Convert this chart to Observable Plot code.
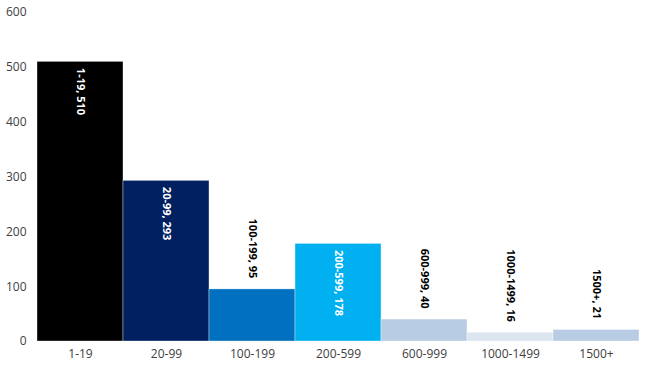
<!DOCTYPE html>
<html>
<head>
<meta charset="utf-8">
<script src="https://cdn.jsdelivr.net/npm/d3@7"></script>
<script src="https://cdn.jsdelivr.net/npm/@observablehq/plot@0.6"></script>
<style>
  html, body { margin: 0; padding: 0; background: #fff; }
  #chart svg { display: block; }
</style>
</head>
<body>
<div id="chart"></div>
<script>
const categories = ["1-19", "20-99", "100-199", "200-599", "600-999", "1000-1499", "1500+"];
const counts = [510, 293, 95, 178, 40, 16, 21];
const barColors = ["#000000", "#002060", "#0070C0", "#00B0F0", "#B8CCE4", "#DCE6F1", "#B8CCE4"];
const yTicks = [0, 100, 200, 300, 400, 500, 600];

const data = categories.map((c, i) => ({
  cat: c,
  value: counts[i],
  color: barColors[i],
  label: `${c}, ${counts[i]}`,
  inside: counts[i] > 150
}));

const font = "'Open Sans', 'Noto Sans', sans-serif";

const chart = Plot.plot({
  width: 650,
  height: 370,
  marginLeft: 36,
  marginRight: 10,
  marginTop: 12,
  marginBottom: 29,
  style: { fontFamily: font, fontSize: "12px", color: "#404040", background: "#fff" },
  x: { domain: categories, padding: 0, label: null, tickSize: 0, tickPadding: 8 },
  y: { domain: [0, 600], ticks: yTicks, label: null, tickSize: 0, tickPadding: 10 },
  marks: [
    Plot.barY(data, { x: "cat", y: "value", fill: "color", stroke: "#ffffff", strokeOpacity: 0.6, strokeWidth: 0.6 }),
    Plot.text(data.filter(d => d.inside), {
      x: "cat", y: "value", text: "label", rotate: 90, textAnchor: "start",
      dy: 6, fill: "#ffffff", fontWeight: "bold", fontSize: 11
    }),
    Plot.text(data.filter(d => !d.inside), {
      x: "cat", y: "value", text: "label", rotate: 90, textAnchor: "end",
      dy: -11, fill: "#000000", fontWeight: "bold", fontSize: 11
    })
  ]
});
document.getElementById("chart").appendChild(chart);
</script>
</body>
</html>
